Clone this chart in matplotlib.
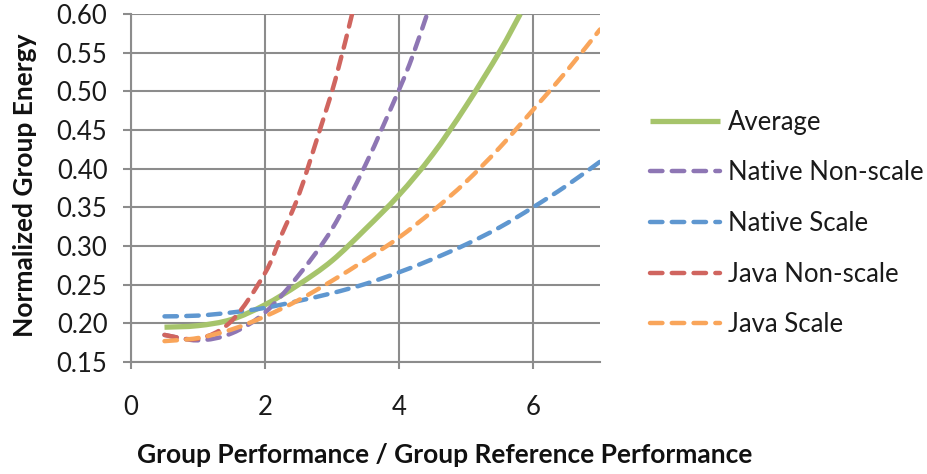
import numpy as np
import matplotlib
matplotlib.use('Agg')
import matplotlib.pyplot as plt
from matplotlib.path import Path
from matplotlib.patches import PathPatch

plt.rcParams['font.family'] = ['Lato', 'DejaVu Sans']

# values
x_avg = [0.5, 1.0, 1.5, 2.0, 2.5, 3.0, 3.5, 4.0, 4.5, 5.0, 5.5, 5.81]
y_avg = [0.195, 0.197, 0.205, 0.224, 0.250, 0.281, 0.322, 0.366, 0.418, 0.481, 0.551, 0.600]

x_nat_ns = [0.5, 1.0, 1.5, 2.0, 2.5, 3.0, 3.5, 4.0, 4.2, 4.42]
y_nat_ns = [0.185, 0.178, 0.187, 0.214, 0.262, 0.322, 0.405, 0.502, 0.545, 0.600]

x_nat_s = [0.5, 1.0, 1.5, 2.0, 2.5, 3.0, 3.5, 4.0, 4.5, 5.0, 5.5, 6.0, 6.5, 7.0]
y_nat_s = [0.209, 0.210, 0.214, 0.220, 0.229, 0.239, 0.251, 0.266, 0.283, 0.302, 0.324, 0.350, 0.378, 0.409]

x_java_ns = [0.5, 1.0, 1.5, 2.0, 2.25, 2.5, 2.8, 3.05, 3.3]
y_java_ns = [0.185, 0.180, 0.203, 0.265, 0.315, 0.365, 0.445, 0.515, 0.600]

x_java_s = [0.5, 1.0, 1.5, 2.0, 2.5, 3.0, 3.5, 4.0, 4.5, 5.0, 5.5, 6.0, 6.5, 7.0]
y_java_s = [0.177, 0.181, 0.192, 0.209, 0.230, 0.255, 0.282, 0.311, 0.345, 0.383, 0.427, 0.476, 0.526, 0.580]

x_ticks = [0, 2, 4, 6]
y_ticks = [0.15, 0.20, 0.25, 0.30, 0.35, 0.40, 0.45, 0.50, 0.55, 0.60]

GRID = '#8c8c8c'
DASH = (0, (2.8, 2.1))


def smooth_path(xs, ys):
    # Excel-style smoothed line: cubic Bezier segments through the points
    p = np.column_stack([xs, ys]).astype(float)
    p = np.vstack([p[0], p, p[-1]])
    verts = [p[1]]
    codes = [Path.MOVETO]
    for i in range(1, len(p) - 2):
        c1 = p[i] + (p[i + 1] - p[i - 1]) / 6
        c2 = p[i + 1] - (p[i + 2] - p[i]) / 6
        verts += [c1, c2, p[i + 1]]
        codes += [Path.CURVE4] * 3
    return Path(verts, codes)


def draw_series(ax, xs, ys, color, lw, ls, label):
    patch = PathPatch(smooth_path(xs, ys), fill=False, edgecolor=color, lw=lw,
                      ls=ls, zorder=3)
    patch.set_capstyle('round' if ls != '-' else 'butt')
    ax.add_patch(patch)
    line, = ax.plot([], [], color=color, lw=lw, ls=ls, label=label,
                    dash_capstyle='round', solid_capstyle='butt')
    return line


fig = plt.figure(figsize=(9.28, 4.74), dpi=100)
ax = fig.add_axes([131 / 928, 1 - 362 / 474, (600 - 131) / 928, (362 - 14) / 474])

draw_series(ax, x_avg, y_avg, '#a6c46b', 3.8, '-', 'Average')
draw_series(ax, x_nat_ns, y_nat_ns, '#8e76b4', 3.2, DASH, 'Native Non-scale')
draw_series(ax, x_nat_s, y_nat_s, '#5f97d0', 3.2, DASH, 'Native Scale')
draw_series(ax, x_java_ns, y_java_ns, '#d0655f', 3.2, DASH, 'Java Non-scale')
draw_series(ax, x_java_s, y_java_s, '#f9a55a', 3.2, DASH, 'Java Scale')

ax.set_xlim(0, 7)
ax.set_ylim(0.15, 0.60)
ax.set_xticks(x_ticks)
ax.set_yticks(y_ticks)
ax.set_yticklabels([f'{v:.2f}' for v in y_ticks])
ax.grid(True, color=GRID, lw=1.5, zorder=0)
ax.set_axisbelow(True)
for side in ['top', 'right']:
    ax.spines[side].set_visible(False)
for side in ['left', 'bottom']:
    ax.spines[side].set_color(GRID)
    ax.spines[side].set_linewidth(1.5)
ax.tick_params(axis='y', length=6, width=1.5, color=GRID, pad=11, labelsize=18.5, labelcolor='#1a1a1a')
ax.tick_params(axis='x', length=5, width=1.5, color=GRID, pad=19, labelsize=18.5, labelcolor='#1a1a1a')

fig.text(445 / 928, 1 - 455 / 474, 'Group Performance / Group Reference Performance',
         ha='center', va='center', fontsize=19, fontweight='bold', color='#111111')
fig.text(25 / 928, 1 - 185 / 474, 'Normalized Group Energy', rotation=90,
         ha='center', va='center', fontsize=19, fontweight='bold', color='#111111')

fig.legend(loc='center left', bbox_to_anchor=(650 / 928, 1 - 223.5 / 474), frameon=False,
           fontsize=18.5, handlelength=2.72, handletextpad=0.3, labelspacing=1.0,
           borderpad=0, borderaxespad=0, labelcolor='#1a1a1a')

fig.savefig('out.png', dpi=100)
